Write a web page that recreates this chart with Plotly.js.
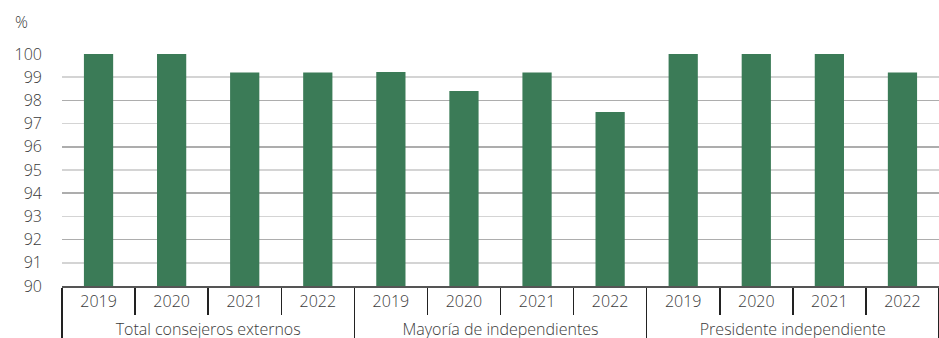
<!DOCTYPE html>
<html><head><meta charset="utf-8">
<script src="https://cdn.plot.ly/plotly-3.0.1.min.js"></script>
<style>html,body{margin:0;padding:0;background:#fff}#c{width:939px;height:338px}
g.xtick2{transform:translateY(4px)}</style>
</head><body><div id="c"></div>
<script>
const groups = ["Total consejeros externos","Mayoría de independientes","Presidente independiente"];
const years = ["2019","2020","2021","2022"];
const totalExternos = [100, 100, 99.2, 99.2];
const mayoriaIndep = [99.22, 98.4, 99.2, 97.5];
const presidenteIndep = [100, 100, 100, 99.2];
const yTicks = [90,91,92,93,94,95,96,97,98,99,100];

const xOuter = [], xInner = [], yVals = [];
[totalExternos, mayoriaIndep, presidenteIndep].forEach((s, gi) => {
  s.forEach((v, i) => { xOuter.push(groups[gi]); xInner.push(years[i]); yVals.push(v); });
});

const font = "'Open Sans', 'Noto Sans', sans-serif";
const txt = '#3a3a3a';
const data = [
  {type:'bar', x:[xOuter, xInner], y:yVals, marker:{color:'#3b7b57'}, hoverinfo:'none'},
  {type:'scatter', x:[xOuter, xInner], y:yVals, yaxis:'y2', mode:'none', hoverinfo:'none', showlegend:false}
];
const layout = {
  width:939, height:338,
  margin:{l:62, r:0, t:54, b:52},
  paper_bgcolor:'#fff', plot_bgcolor:'rgba(0,0,0,0)',
  showlegend:false, bargap:0.6,
  font:{family:font, size:16, color:txt, weight:300},
  xaxis:{type:'multicategory', showline:true, linecolor:'#555', linewidth:1.5,
    ticks:'outside', ticklen:27, tickcolor:'#222', tickwidth:1.5,
    showdividers:true, dividercolor:'#222', dividerwidth:1.5,
    tickfont:{family:font, size:16, color:txt, weight:300}, showgrid:false, zeroline:false, layer:'above traces'},
  yaxis:{range:[90,100], tickvals:yTicks, ticktext:yTicks.map(String), showgrid:true,
    gridcolor:'#d4d4d4', gridwidth:1.5, zeroline:false, showline:false,
    ticks:'', tickfont:{family:font, size:16, color:txt, weight:300}, ticklabelstandoff:19},
  yaxis2:{overlaying:'y', range:[90,100], dtick:2, tick0:90, showgrid:true, gridcolor:'#adadad',
    gridwidth:1.5, showticklabels:false, zeroline:false, ticks:''},
  annotations:[{text:'%', xref:'paper', yref:'paper', x:-0.046, y:1.082, xanchor:'center', yanchor:'bottom',
    showarrow:false, font:{family:font, size:16, color:txt, weight:300}}]
};
Plotly.newPlot('c', data, layout, {staticPlot:true, displayModeBar:false});
</script></body></html>
